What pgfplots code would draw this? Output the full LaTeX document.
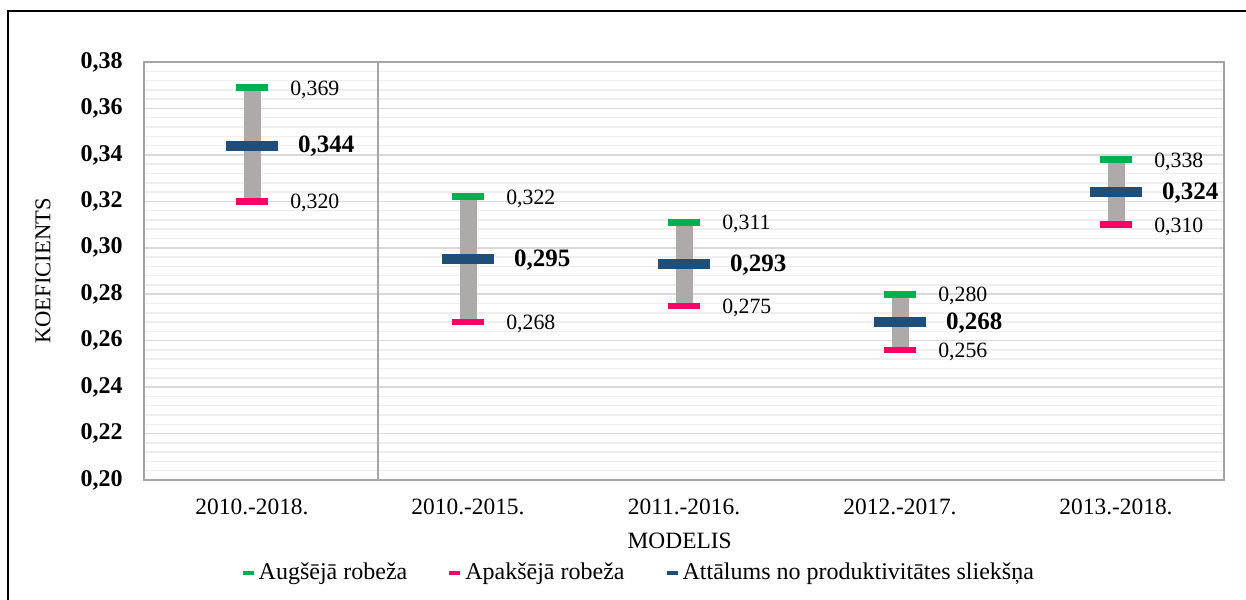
\documentclass[border=0pt]{standalone}
\usepackage{fontspec}
\setmainfont{Liberation Serif}
\usepackage{pgfplots}
\usepackage{pgfplotstable}
\pgfplotsset{compat=1.18}
\definecolor{cGreen}{HTML}{00B050}
\definecolor{cPink}{HTML}{FF0066}
\definecolor{cBlue}{HTML}{1F4E79}
\definecolor{cBar}{HTML}{AEAAAA}
\definecolor{cFrame}{HTML}{A6A6A6}
\definecolor{cMajor}{HTML}{D9D9D9}
\definecolor{cMinor}{HTML}{EEEEEE}

\pgfplotstableread{
x hi lo mid hil lol midl
0 0.369 0.320 0.344 0,369 0,320 0,344
1 0.322 0.268 0.295 0,322 0,268 0,295
2 0.311 0.275 0.293 0,311 0,275 0,293
3 0.280 0.256 0.268 0,280 0,256 0,268
4 0.338 0.310 0.324 0,338 0,310 0,324
}\data

\begin{document}
\begin{tikzpicture}
\useasboundingbox (-72bp,-60bp) rectangle (551bp,240bp);
\draw[line width=1bp] (-68bp,-62bp) -- (-68bp,234.5bp) -- (553bp,234.5bp);
\begin{axis}[
  scale only axis, width=540bp, height=209bp,
  xmin=-0.5, xmax=4.5, ymin=0.2, ymax=0.38,
  xtick={0,1,2,3,4},
  xticklabels={2010.-2018.,2010.-2015.,2011.-2016.,2012.-2017.,2013.-2018.},
  ytick={0.20,0.22,0.24,0.26,0.28,0.30,0.32,0.34,0.36,0.38},
  minor y tick num=4,
  ymajorgrids, yminorgrids,
  major grid style={cMajor, line width=0.75bp},
  minor grid style={cMinor, line width=0.75bp},
  axis line style={cFrame, line width=1bp},
  tick style={draw=none},
  y tick label style={/pgf/number format/fixed, /pgf/number format/fixed zerofill, /pgf/number format/precision=2, /pgf/number format/use comma, /pgf/number format/assume math mode=true},
  yticklabel style={anchor=east, inner sep=0pt, font=\bfseries\fontsize{12bp}{14bp}\selectfont},
  yticklabel shift=10.5bp,
  xticklabel style={anchor=north, inner sep=0pt, font=\fontsize{11.7bp}{14bp}\selectfont},
  xticklabel shift=9.5bp,
  xlabel={MODELIS},
  xlabel style={at={(axis description cs:0.496,-0.146)}, anchor=center, font=\fontsize{11.7bp}{14bp}\selectfont},
  ylabel={KOEFICIENTS},
  ylabel style={at={(axis description cs:-0.0935,0.5)}, anchor=center, font=\fontsize{11.3bp}{14bp}\selectfont},
  legend style={at={(axis description cs:0.46,-0.2225)}, anchor=center, draw=none, fill=none,
    font=\fontsize{12bp}{14bp}\selectfont, cells={anchor=west}, nodes={inner xsep=2.5bp},
    /tikz/every even column/.append style={column sep=18.5bp}},
  legend columns=3,
  legend image code/.code={\fill[draw=none] (0bp,-1.2bp) rectangle (5.5bp,1.2bp);},
]
\draw[cFrame, line width=0.6bp] (axis cs:0.583,0.2) -- (axis cs:0.583,0.38);

\addplot[forget plot, draw=none, mark=none,
  error bars/.cd, y dir=plus, y explicit, error mark=none,
  error bar style={draw=cBar, line width=8.5bp}]
  table[x=x, y=lo, y error expr=\thisrow{hi}-\thisrow{lo}] {\data};

\addplot[only marks, mark=-, mark size=8bp, color=cGreen, mark options={line width=3.3bp},
  point meta=explicit symbolic, nodes near coords,
  every node near coord/.append style={anchor=west, xshift=17.5bp, yshift=-1bp, text=black, inner sep=0pt, font=\fontsize{10.9bp}{13bp}\selectfont}]
  table[x=x, y=hi, meta=hil] {\data};
\addlegendentry{Augšējā robeža}

\addplot[only marks, mark=-, mark size=8bp, color=cPink, mark options={line width=3.3bp},
  point meta=explicit symbolic, nodes near coords,
  every node near coord/.append style={anchor=west, xshift=17.5bp, yshift=-1bp, text=black, inner sep=0pt, font=\fontsize{10.9bp}{13bp}\selectfont}]
  table[x=x, y=lo, meta=lol] {\data};
\addlegendentry{Apakšējā robeža}

\addplot[only marks, mark=-, mark size=13bp, color=cBlue, mark options={line width=5bp},
  point meta=explicit symbolic, nodes near coords,
  every node near coord/.append style={anchor=west, xshift=20.5bp, yshift=-0.5bp, text=black, inner sep=0pt, font=\bfseries\fontsize{12.5bp}{14bp}\selectfont}]
  table[x=x, y=mid, meta=midl] {\data};
\addlegendentry{Attālums no produktivitātes sliekšņa}
\end{axis}
\end{tikzpicture}
\end{document}
